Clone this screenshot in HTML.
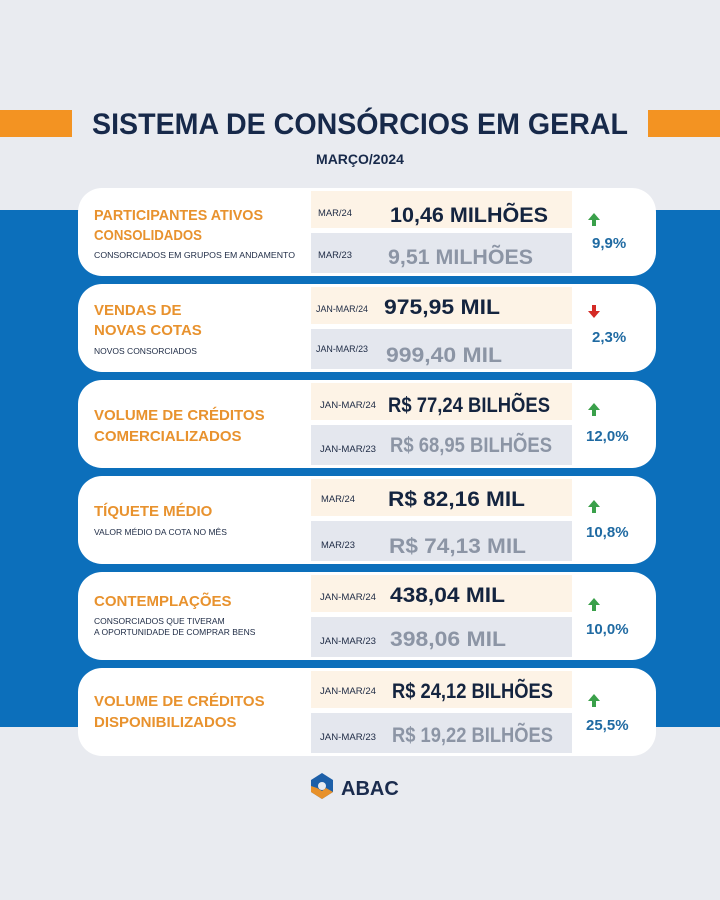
<!DOCTYPE html>
<html><head><meta charset="utf-8"><style>
html,body{margin:0;padding:0;background:#e9ebf0;}
svg{display:block}
text{font-family:"Liberation Sans",sans-serif;}
.lab{fill:#e8922e;font-weight:bold;font-size:15px}
.sub{fill:#1d2a44;font-size:8.5px}
.dt{fill:#1d2a44;font-size:9px}
.v1{fill:#14243f;font-weight:bold;font-size:21px}
.v2{fill:#8c95a5;font-weight:bold;font-size:21px}
.pc{fill:#1f6aa2;font-weight:bold;font-size:15px}
</style></head><body>
<svg width="720" height="900" viewBox="0 0 720 900">
<rect width="720" height="900" fill="#e9ebf0"/>
<rect x="0" y="210" width="720" height="517" fill="#0c6fbb"/>
<rect x="0" y="110" width="72" height="27" fill="#f39322"/>
<rect x="648" y="110" width="72" height="27" fill="#f39322"/>
<text x="360" y="134" text-anchor="middle" font-size="30" font-weight="bold" fill="#17294a" textLength="536" lengthAdjust="spacingAndGlyphs">SISTEMA DE CONSÓRCIOS EM GERAL</text>
<text x="360" y="164" text-anchor="middle" font-size="14" font-weight="bold" fill="#17294a">MARÇO/2024</text>

<!-- card 1 -->
<rect x="78" y="188" width="578" height="88" rx="24" fill="#fff"/>
<rect x="311" y="191" width="261" height="37" fill="#fdf3e6"/>
<rect x="311" y="233" width="261" height="40" fill="#e4e7ee"/>
<text class="lab" x="94" y="220" textLength="169" lengthAdjust="spacingAndGlyphs">PARTICIPANTES ATIVOS</text>
<text class="lab" x="94" y="240" textLength="108" lengthAdjust="spacingAndGlyphs">CONSOLIDADOS</text>
<text class="sub" x="94" y="258" textLength="201" lengthAdjust="spacingAndGlyphs">CONSORCIADOS EM GRUPOS EM ANDAMENTO</text>
<text class="dt" x="318" y="216" textLength="34" lengthAdjust="spacingAndGlyphs">MAR/24</text>
<text class="dt" x="318" y="258" textLength="34" lengthAdjust="spacingAndGlyphs">MAR/23</text>
<text class="v1" x="390" y="222" textLength="158" lengthAdjust="spacingAndGlyphs">10,46 MILHÕES</text>
<text class="v2" x="388" y="264" textLength="145" lengthAdjust="spacingAndGlyphs">9,51 MILHÕES</text>

<!-- card 2 -->
<rect x="78" y="284" width="578" height="88" rx="24" fill="#fff"/>
<rect x="311" y="287" width="261" height="37" fill="#fdf3e6"/>
<rect x="311" y="329" width="261" height="40" fill="#e4e7ee"/>
<text class="lab" x="94" y="315">VENDAS DE</text>
<text class="lab" x="94" y="335">NOVAS COTAS</text>
<text class="sub" x="94" y="354">NOVOS CONSORCIADOS</text>
<text class="dt" x="316" y="312" textLength="52" lengthAdjust="spacingAndGlyphs">JAN-MAR/24</text>
<text class="dt" x="316" y="352" textLength="52" lengthAdjust="spacingAndGlyphs">JAN-MAR/23</text>
<text class="v1" x="384" y="314" textLength="116" lengthAdjust="spacingAndGlyphs">975,95 MIL</text>
<text class="v2" x="386" y="362" textLength="116" lengthAdjust="spacingAndGlyphs">999,40 MIL</text>

<!-- card 3 -->
<rect x="78" y="380" width="578" height="88" rx="24" fill="#fff"/>
<rect x="311" y="383" width="261" height="37" fill="#fdf3e6"/>
<rect x="311" y="425" width="261" height="40" fill="#e4e7ee"/>
<text class="lab" x="94" y="420">VOLUME DE CRÉDITOS</text>
<text class="lab" x="94" y="441">COMERCIALIZADOS</text>
<text class="dt" x="320" y="408" textLength="56" lengthAdjust="spacingAndGlyphs">JAN-MAR/24</text>
<text class="dt" x="320" y="452" textLength="56" lengthAdjust="spacingAndGlyphs">JAN-MAR/23</text>
<text class="v1" x="388" y="412" textLength="162" lengthAdjust="spacingAndGlyphs">R$ 77,24 BILHÕES</text>
<text class="v2" x="390" y="452" textLength="162" lengthAdjust="spacingAndGlyphs">R$ 68,95 BILHÕES</text>

<!-- card 4 -->
<rect x="78" y="476" width="578" height="88" rx="24" fill="#fff"/>
<rect x="311" y="479" width="261" height="37" fill="#fdf3e6"/>
<rect x="311" y="521" width="261" height="40" fill="#e4e7ee"/>
<text class="lab" x="94" y="516">TÍQUETE MÉDIO</text>
<text class="sub" x="94" y="535">VALOR MÉDIO DA COTA NO MÊS</text>
<text class="dt" x="321" y="502" textLength="34" lengthAdjust="spacingAndGlyphs">MAR/24</text>
<text class="dt" x="321" y="548" textLength="34" lengthAdjust="spacingAndGlyphs">MAR/23</text>
<text class="v1" x="388" y="506" textLength="137" lengthAdjust="spacingAndGlyphs">R$ 82,16 MIL</text>
<text class="v2" x="389" y="553" textLength="137" lengthAdjust="spacingAndGlyphs">R$ 74,13 MIL</text>

<!-- card 5 -->
<rect x="78" y="572" width="578" height="88" rx="24" fill="#fff"/>
<rect x="311" y="575" width="261" height="37" fill="#fdf3e6"/>
<rect x="311" y="617" width="261" height="40" fill="#e4e7ee"/>
<text class="lab" x="94" y="606">CONTEMPLAÇÕES</text>
<text class="sub" x="94" y="624">CONSORCIADOS QUE TIVERAM</text>
<text class="sub" x="94" y="635">A OPORTUNIDADE DE COMPRAR BENS</text>
<text class="dt" x="320" y="600" textLength="56" lengthAdjust="spacingAndGlyphs">JAN-MAR/24</text>
<text class="dt" x="320" y="644" textLength="56" lengthAdjust="spacingAndGlyphs">JAN-MAR/23</text>
<text class="v1" x="390" y="602" textLength="115" lengthAdjust="spacingAndGlyphs">438,04 MIL</text>
<text class="v2" x="390" y="646" textLength="116" lengthAdjust="spacingAndGlyphs">398,06 MIL</text>

<!-- card 6 -->
<rect x="78" y="668" width="578" height="88" rx="24" fill="#fff"/>
<rect x="311" y="671" width="261" height="37" fill="#fdf3e6"/>
<rect x="311" y="713" width="261" height="40" fill="#e4e7ee"/>
<text class="lab" x="94" y="706">VOLUME DE CRÉDITOS</text>
<text class="lab" x="94" y="727">DISPONIBILIZADOS</text>
<text class="dt" x="320" y="694" textLength="56" lengthAdjust="spacingAndGlyphs">JAN-MAR/24</text>
<text class="dt" x="320" y="740" textLength="56" lengthAdjust="spacingAndGlyphs">JAN-MAR/23</text>
<text class="v1" x="392" y="698" textLength="161" lengthAdjust="spacingAndGlyphs">R$ 24,12 BILHÕES</text>
<text class="v2" x="392" y="742" textLength="161" lengthAdjust="spacingAndGlyphs">R$ 19,22 BILHÕES</text>

<!-- arrows & pct -->
<g fill="#3aa04a">
<path d="M594 213 l-6 7 h4 v6 h4 v-6 h4 z"/>
<path d="M594 403 l-6 7 h4 v6 h4 v-6 h4 z"/>
<path d="M594 500 l-6 7 h4 v6 h4 v-6 h4 z"/>
<path d="M594 598 l-6 7 h4 v6 h4 v-6 h4 z"/>
<path d="M594 694 l-6 7 h4 v6 h4 v-6 h4 z"/>
</g>
<path d="M594 318 l-6 -7 h4 v-6 h4 v6 h4 z" fill="#d42a25"/>
<text class="pc" x="592" y="248">9,9%</text>
<text class="pc" x="592" y="342">2,3%</text>
<text class="pc" x="586" y="441">12,0%</text>
<text class="pc" x="586" y="537">10,8%</text>
<text class="pc" x="586" y="634">10,0%</text>
<text class="pc" x="586" y="730">25,5%</text>

<!-- logo -->
<g transform="translate(322,786)">
<path d="M0 -13 L11 -6 L11 6 L0 13 L-11 6 L-11 -6 Z" fill="#1d5fa8"/>
<path d="M-11 0 L-11 6 L0 13 L11 6 L4 2 L0 5 L-5 2 Z" fill="#e8912a"/>
<circle cx="0" cy="0" r="4" fill="#e9ebf0"/>
</g>
<text x="341" y="795" font-size="20" font-weight="bold" fill="#1b2c4e">ABAC</text>
</svg>
</body></html>
